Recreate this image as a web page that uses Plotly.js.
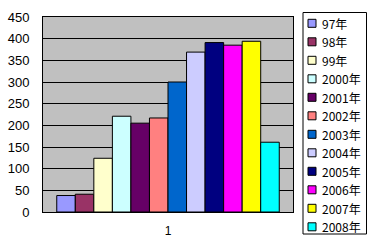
<!DOCTYPE html>
<html><head><meta charset="utf-8">
<script src="https://cdn.plot.ly/plotly-3.0.1.min.js"></script>
<style>html,body{margin:0;padding:0;background:#fff;}#c{width:369px;height:250px;}</style>
</head><body><div id="c"></div>
<script>
const categories = ['1'];
const seriesNames = ['97年','98年','99年','2000年','2001年','2002年','2003年','2004年','2005年','2006年','2007年','2008年'];
const seriesValues = [38, 41, 124, 221, 205, 217, 300, 369, 391, 385, 394, 161];
const seriesColors = ['#9999FF','#993366','#FFFFCC','#CCFFFF','#660066','#FF8080','#0066CC','#CCCCFF','#000080','#FF00FF','#FFFF00','#00FFFF'];
const yTicks = [0,50,100,150,200,250,300,350,400,450];

const W = 369, H = 250, L = 43, R = 76, T = 17, B = 38;
const pw = W - L - R, ph = H - T - B;
const px2x = p => (p - L) / pw;
const py2y = p => (H - B - p) / ph;

const traces = seriesNames.map((n,i)=>({
  type:'bar', name:n, x:categories, y:[seriesValues[i]],
  marker:{color:seriesColors[i], line:{color:'#000', width:1}}
}));

// legend built from the series arrays
const shapes = [{type:'rect', xref:'paper', yref:'paper', x0:px2x(303), x1:px2x(366.5), y0:py2y(234), y1:py2y(12.5),
  line:{color:'#000', width:1}, fillcolor:'#fff', layer:'above'}];
const annotations = [];
seriesNames.forEach((n,i)=>{
  const cy = 23.3 + i*18.5;
  shapes.push({type:'rect', xref:'paper', yref:'paper', x0:px2x(308), x1:px2x(316), y0:py2y(cy+4), y1:py2y(cy-4),
    line:{color:'#000', width:1}, fillcolor:seriesColors[i], layer:'above'});
  annotations.push({xref:'paper', yref:'paper', x:px2x(319.5), y:py2y(cy), xanchor:'left', yanchor:'middle',
    text:n, showarrow:false, font:{family:'Noto Sans CJK SC, sans-serif', size:12, color:'#000'}});
});

const layout = {
  width:W, height:H,
  margin:{l:L, r:R, t:T, b:B},
  paper_bgcolor:'#fff', plot_bgcolor:'#C0C0C0',
  barmode:'group', bargap:0.11, bargroupgap:0,
  font:{family:'Liberation Sans, Arial, sans-serif', size:12, color:'#000'},
  xaxis:{type:'category', showline:true, linecolor:'#000', linewidth:1, mirror:true, ticks:'', showgrid:false,
         tickfont:{size:12}, ticklabelstandoff:8},
  yaxis:{range:[0,450], tickvals:yTicks, showline:true, linecolor:'#000', linewidth:1, mirror:true,
         gridcolor:'#000', gridwidth:1, zeroline:false, ticks:'', tickfont:{size:13}, ticklabelstandoff:10},
  showlegend:false,
  shapes:shapes, annotations:annotations
};
Plotly.newPlot('c', traces, layout, {displayModeBar:false, staticPlot:true});
</script></body></html>
